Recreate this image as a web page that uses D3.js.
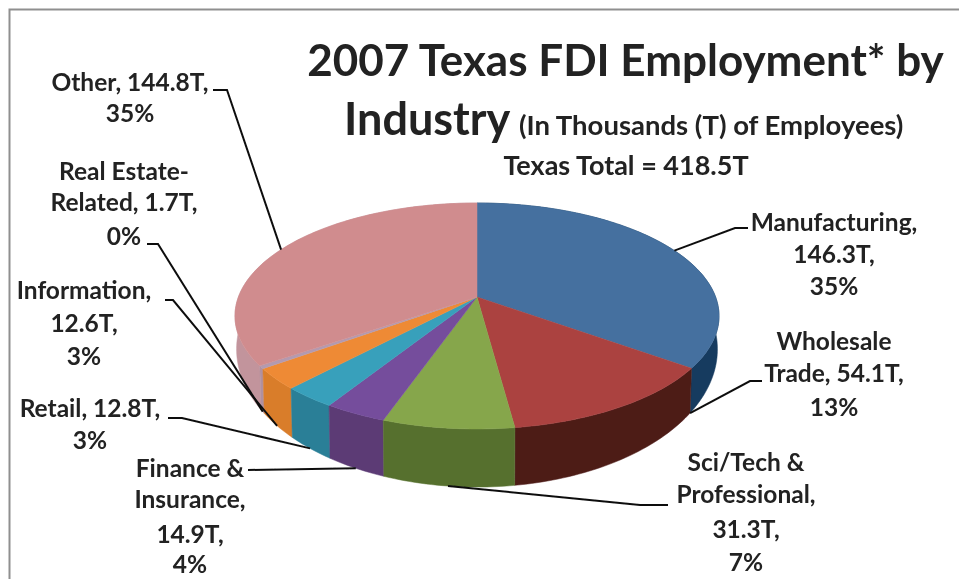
<!DOCTYPE html>
<html>
<head>
<meta charset="utf-8">
<script src="https://cdn.jsdelivr.net/npm/d3@7"></script>
<style>
    html, body { margin: 0; padding: 0; background: #fff; }
    svg { display: block; }
    text { font-family: Lato, "Open Sans", sans-serif; font-weight: 700; fill: #222; }
</style>
</head>
<body>
<div id="chart"></div>
<script>
var industries = ["Manufacturing", "Wholesale Trade", "Sci/Tech & Professional", "Finance & Insurance", "Retail", "Information", "Real Estate-Related", "Other"];
var employment = [146.3, 54.1, 31.3, 14.9, 12.8, 12.6, 1.7, 144.8];
var topColors = ["#44709f", "#ab4240", "#86a64b", "#744d9c", "#38a0bb", "#ee8a34", "#b39ab0", "#d08c8e"];
var wallColors = ["#173a5e", "#4e1c18", "#56702e", "#5b3a74", "#2b7f97", "#d97d2c", "#b0909f", "#c2949c"];
var labelLines = [
    ["Manufacturing,", "146.3T,", "35%"],
    ["Wholesale", "Trade, 54.1T,", "13%"],
    ["Sci/Tech &", "Professional,", "31.3T,", "7%"],
    ["Finance &", "Insurance,", "14.9T,", "4%"],
    ["Retail, 12.8T,", "3%"],
    ["Information,", "12.6T,", "3%"],
    ["Real Estate-", "Related, 1.7T,", "0%"],
    ["Other, 144.8T,", "35%"]
];

// label placement, kept apart from the values
var labelX = [834, 834, 746, 190, 90, 84, 124, 130];
var labelY = [
    [231, 263, 295],
    [350, 382, 416],
    [471, 503, 538, 571],
    [477, 508, 543, 573],
    [417, 449],
    [299, 332, 365],
    [180, 211, 245],
    [91, 122]
];
var leaderElbows = [
    [[735, 228], [748, 228]],
    [[750, 381], [762, 381]],
    [[640, 505], [668, 505]],
    [[248, 470]],
    [[182, 418], [168, 418]],
    [[173, 300], [165, 300]],
    [[158, 244], [147, 244]],
    [[227, 90], [213, 90]]
];
var leaderRim = ["top", "bottomStart", "bottom", "bottom", "bottom", "bottom", "bottom", "top"];

var width = 959, height = 579;
var tilt = 0.168;

var svg = d3.select("#chart").append("svg")
    .attr("width", width)
    .attr("height", height);

var defs = svg.append("defs");
defs.append("filter").attr("id", "softText")
    .append("feGaussianBlur").attr("stdDeviation", 0.5);
defs.append("filter").attr("id", "softPie")
    .append("feGaussianBlur").attr("stdDeviation", 0.7);

// the frame of the pasted picture: only top and left show
svg.append("path")
    .attr("d", "M9.5,579V9.5H959")
    .attr("fill", "none")
    .attr("stroke", "#8f8f8f")
    .attr("stroke-width", 2);

// unit circle coordinates to pixels, both planes share the same perspective
var xTop = d3.scaleLinear().domain([0, 1]).range([477, 477 + 238.6]);
var yTop = d3.scaleLinear().domain([0, 1]).range([297, 297 + 109.8]);
var xBottom = d3.scaleLinear().domain([0, 1]).range([477, 477 + 237]);
var yBottom = d3.scaleLinear().domain([0, 1]).range([326, 326 + 134]);

function project(angle, xScale, yScale) {
    var u = Math.sin(angle), v = -Math.cos(angle);
    var w = 1 - tilt * v;
    return [xScale(u / w), yScale(v / w)];
}
function rimTop(a) { return project(a, xTop, yTop); }
function rimBottom(a) { return project(a, xBottom, yBottom); }

function arcAngles(d) {
    var n = Math.max(2, Math.ceil((d.endAngle - d.startAngle) / 0.02));
    return d3.range(n + 1).map(function(i) {
        return d.startAngle + (d.endAngle - d.startAngle) * i / n;
    });
}

var pie = d3.pie().sort(null).value(function(d) { return d; });
var slices = pie(employment);
var line = d3.line();

// walls go back to front, the top faces cover whatever is left behind
var wallOrder = d3.range(slices.length).sort(function(a, b) {
    var ma = (slices[a].startAngle + slices[a].endAngle) / 2;
    var mb = (slices[b].startAngle + slices[b].endAngle) / 2;
    return Math.cos(mb) - Math.cos(ma);
});

var pieGroup = svg.append("g").attr("filter", "url(#softPie)");

pieGroup.selectAll(".wall")
    .data(wallOrder)
    .enter()
    .append("path")
    .attr("class", "wall")
    .attr("fill", function(i) { return wallColors[i]; })
    .attr("stroke", function(i) { return wallColors[i]; })
    .attr("stroke-width", 0.5)
    .attr("d", function(i) {
        var angles = arcAngles(slices[i]);
        return line(angles.map(rimTop).concat(angles.slice().reverse().map(rimBottom))) + "Z";
    });

pieGroup.selectAll(".top")
    .data(slices)
    .enter()
    .append("path")
    .attr("class", "top")
    .attr("fill", function(d, i) { return topColors[i]; })
    .attr("stroke", function(d, i) { return topColors[i]; })
    .attr("stroke-width", 0.5)
    .attr("d", function(d) {
        return line([[xTop(0), yTop(0)]].concat(arcAngles(d).map(rimTop))) + "Z";
    });

function leaderStart(d, i) {
    var mid = (d.startAngle + d.endAngle) / 2;
    if (leaderRim[i] === "top") return rimTop(mid);
    if (leaderRim[i] === "bottomStart") return rimBottom(d.startAngle);
    return rimBottom(mid);
}

var chartText = svg.append("g").attr("filter", "url(#softText)");

chartText.selectAll(".leader")
    .data(slices)
    .enter()
    .append("path")
    .attr("class", "leader")
    .attr("fill", "none")
    .attr("stroke", "#111")
    .attr("stroke-width", 2)
    .attr("d", function(d, i) {
        return line([leaderStart(d, i)].concat(leaderElbows[i]));
    });

var labels = chartText.selectAll(".label")
    .data(labelLines)
    .enter()
    .append("text")
    .attr("class", "label")
    .attr("font-size", 24.5)
    .attr("text-anchor", "middle");

labels.selectAll("tspan")
    .data(function(d, i) {
        return d.map(function(s, j) { return { s: s, x: labelX[i], y: labelY[i][j] }; });
    })
    .enter()
    .append("tspan")
    .attr("x", function(d) { return d.x; })
    .attr("y", function(d) { return d.y; })
    .text(function(d) { return d.s; });

chartText.append("text")
    .attr("x", 625.5).attr("y", 76)
    .attr("text-anchor", "middle")
    .attr("font-size", 44)
    .text("2007 Texas FDI Employment* by");
chartText.append("text")
    .attr("x", 344).attr("y", 135)
    .attr("font-size", 45)
    .text("Industry");
chartText.append("text")
    .attr("x", 519).attr("y", 135)
    .attr("font-size", 27.5)
    .text("(In Thousands  (T) of Employees)");
chartText.append("text")
    .attr("x", 626).attr("y", 175)
    .attr("text-anchor", "middle")
    .attr("font-size", 27)
    .text("Texas Total = 418.5T");
</script>
</body>
</html>
